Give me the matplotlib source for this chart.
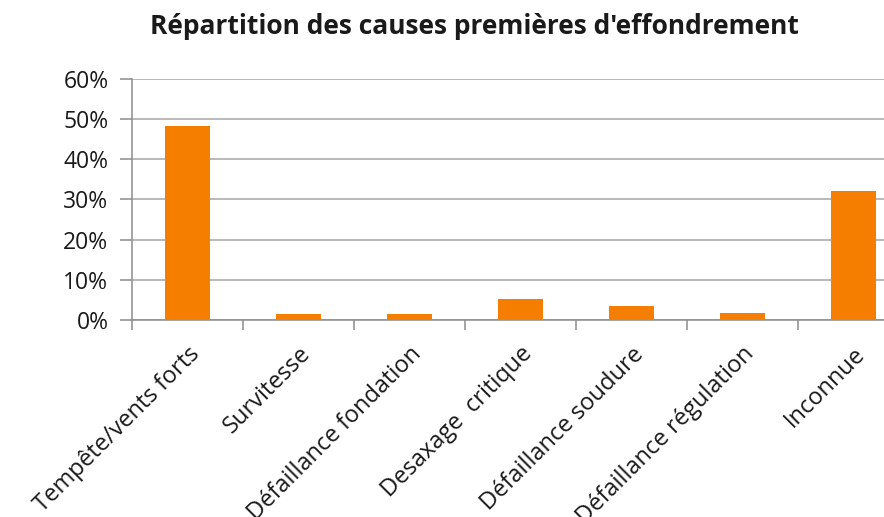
import numpy as np
import matplotlib
matplotlib.use("Agg")
import matplotlib.pyplot as plt
from matplotlib.ticker import FuncFormatter, FixedLocator

causes = ["Tempête/vents forts", "Survitesse", "Défaillance fondation",
          "Desaxage  critique", "Défaillance soudure", "Défaillance régulation",
          "Inconnue"]
parts = [48.2, 1.6, 1.6, 5.3, 3.6, 1.7, 32.2]
yticks = [0, 10, 20, 30, 40, 50, 60]
titre = "Répartition des causes premières d'effondrement"

plt.rcParams['font.family'] = ['Open Sans', 'DejaVu Sans']

fig = plt.figure(figsize=(8.84, 5.17), dpi=100)
W, H = 884., 517.
# axes run past the right edge, as in the reference (cropped)
x0, x1, ytop, ybot = 132, 909, 79, 320
ax = fig.add_axes([x0/W, 1-ybot/H, (x1-x0)/W, (ybot-ytop)/H])

x = np.arange(len(causes))
ax.bar(x, parts, width=0.4, color="#f57d00", zorder=3)

ax.set_xlim(-0.5, len(causes)-0.5)
ax.set_ylim(0, 60)
ax.set_yticks(yticks)
ax.yaxis.set_major_formatter(FuncFormatter(lambda v, p: "%d%%" % v))
ax.grid(axis="y", color="#a6a6a6", lw=1.1, zorder=0)

ax.set_xticks(x)
ax.set_xticklabels(causes, rotation=45, ha="right", rotation_mode="anchor",
                   fontsize=17, color="#1a1a1a")
ax.tick_params(axis="x", which="major", length=0, pad=16)
ax.xaxis.set_minor_locator(FixedLocator(np.arange(-0.5, len(causes), 1)))
ax.tick_params(axis="x", which="minor", length=7, color="#8c8c8c", width=1.1)
ax.tick_params(axis="y", length=9, color="#8c8c8c", width=1.1,
               labelsize=16.5, labelcolor="#1a1a1a", pad=8)

for s in ["top", "right"]:
    ax.spines[s].set_visible(False)
ax.spines["left"].set_color("#8c8c8c")
ax.spines["bottom"].set_color("#8c8c8c")
ax.spines["left"].set_linewidth(1.1)
ax.spines["bottom"].set_linewidth(1.1)

fig.text(474/W, 1-26/H, titre, ha="center", va="center",
         fontsize=19, fontweight="bold", color="#1a1a1a")

fig.savefig("out.png", dpi=100)
